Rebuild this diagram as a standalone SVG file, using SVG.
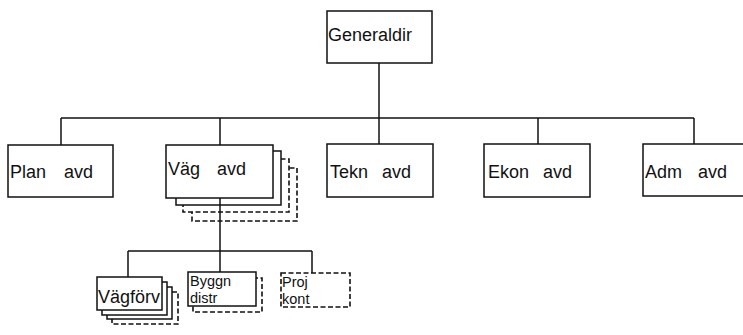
<svg xmlns="http://www.w3.org/2000/svg" width="743" height="335" viewBox="0 0 743 335">
<style>
.b{fill:#fff;stroke:#111;stroke-width:1.5}
.d{fill:#fff;stroke:#111;stroke-width:1.6;stroke-dasharray:5 2.5}
.ln{fill:none;stroke:#111;stroke-width:1.5}
text{font-family:"Liberation Sans",Arial,sans-serif;font-size:18px;fill:#111}
text.s{font-size:14.5px}
</style>
<rect width="743" height="335" fill="#fff"/>
<g id="connectors">
<line class="ln" x1="379" y1="63" x2="379" y2="118"/>
<line class="ln" x1="61" y1="118" x2="694" y2="118"/>
<line class="ln" x1="61" y1="118" x2="61" y2="145"/>
<line class="ln" x1="220" y1="118" x2="220" y2="145"/>
<line class="ln" x1="379" y1="118" x2="379" y2="144"/>
<line class="ln" x1="538" y1="118" x2="538" y2="144"/>
<line class="ln" x1="694" y1="118" x2="694" y2="144"/>
<line class="ln" x1="128" y1="251" x2="312" y2="251"/>
<line class="ln" x1="128" y1="251" x2="128" y2="277"/>
<line class="ln" x1="312" y1="251" x2="312" y2="273"/>
</g>
<g id="generaldir">
<rect class="b" x="327" y="11" width="105" height="52"/>
<text x="328" y="41">Generaldir</text>
</g>
<g id="plan-avd">
<rect class="b" x="8" y="145" width="105" height="52"/>
<text x="10" y="178">Plan</text><text x="64" y="178">avd</text>
</g>
<g id="vag-avd">
<rect class="d" x="192" y="168" width="105" height="53"/>
<rect class="d" x="183" y="159" width="106" height="53"/>
<rect class="b" x="176" y="151" width="105" height="54"/>
<rect class="b" x="166" y="145" width="107" height="53"/>
<text x="168" y="175">Väg</text><text x="217" y="175">avd</text>
</g>
<g id="tekn-avd">
<rect class="b" x="327" y="144" width="106" height="53"/>
<text x="330" y="178">Tekn</text><text x="382" y="178">avd</text>
</g>
<g id="ekon-avd">
<rect class="b" x="484" y="144" width="106" height="53"/>
<text x="488" y="178">Ekon</text><text x="543" y="178">avd</text>
</g>
<g id="adm-avd">
<rect class="b" x="643" y="144" width="110" height="52"/>
<text x="645" y="178">Adm</text><text x="698" y="178">avd</text>
</g>
<g id="vagforv">
<rect class="d" x="112" y="292" width="66" height="32"/>
<rect class="b" x="107" y="287" width="65" height="32"/>
<rect class="b" x="102" y="282" width="65" height="33"/>
<rect class="b" x="97" y="277" width="65" height="33"/>
<text x="98" y="303">Vägförv</text>
</g>
<g id="byggn-distr">
<rect class="d" x="193" y="278" width="69" height="34"/>
<rect class="b" x="188" y="272" width="68" height="34"/>
<text class="s" x="190" y="286">Byggn</text><text class="s" x="190" y="303">distr</text>
</g>
<g id="proj-kont">
<rect class="d" x="281" y="273" width="69" height="34"/>
<text class="s" x="282" y="287">Proj</text><text class="s" x="282" y="304">kont</text>
</g>
<line class="ln" x1="220" y1="198" x2="220" y2="272"/>
</svg>
